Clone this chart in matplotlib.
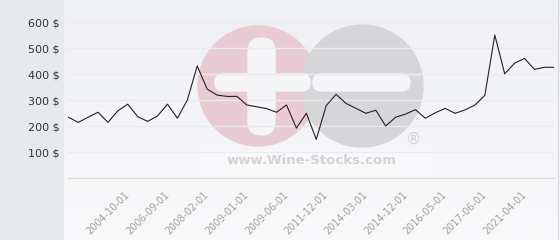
import matplotlib.pyplot as plt
import numpy as np
from matplotlib.patches import Circle, FancyBboxPatch, Rectangle

# prix (un point par vente)
prices = [235, 215, 235, 254, 215, 260, 285, 237, 219, 240,
          285, 231, 301, 432, 343, 320, 315, 315, 282, 275,
          268, 254, 282, 193, 250, 150, 279, 323, 288, 269,
          250, 262, 201, 235, 247, 264, 231, 252, 269, 250,
          263, 282, 319, 551, 402, 443, 461, 419, 427, 427]
tick_labels = ['2004-10-01', '2006-09-01', '2008-02-01', '2009-01-01',
               '2009-06-01', '2011-12-01', '2014-03-01', '2014-12-01',
               '2016-05-01', '2017-06-01', '2021-04-01']
y_ticks = [100, 200, 300, 400, 500, 600]

W, H = 560, 240
fig = plt.figure(figsize=(W / 100, H / 100), dpi=100)

# fond : panneau gris a gauche, degrade clair a droite, filigrane
bg = fig.add_axes([0, 0, 1, 1])
bg.set_zorder(0)
grad = np.linspace(0, 1, 100).reshape(-1, 1)
bg.imshow(grad, cmap=plt.matplotlib.colors.LinearSegmentedColormap.from_list(
    'g', ['#eef0f4', '#f9f9fb']), extent=(63, W, H, 0), aspect='auto', zorder=0)
bg.set_xlim(0, W)
bg.set_ylim(H, 0)
bg.axis('off')
bg.add_patch(Rectangle((0, 0), 63, H, color='#e6eaed', zorder=1))
bg.plot([558, 558], [0, H], color='#d5d8dc', lw=0.8, zorder=1)

bg.add_patch(Rectangle((200, 150), 230, 24, color='#f8f8fa', zorder=1))
bg.add_patch(Circle((258, 86), 60, color='#e8cbd3', zorder=2))
bg.add_patch(Circle((362, 86), 61, color='#d6d6d8', zorder=2))
for x0, y0, w, h in [(215, 74, 95, 17), (248, 38, 27, 97), (313, 74, 97, 17)]:
    r = min(w, h) / 2
    bg.add_patch(FancyBboxPatch((x0 + r, y0 + r), w - 2 * r, h - 2 * r,
                                boxstyle='round,pad=%g' % r,
                                color='#f5f5f8', zorder=3))
bg.text(312, 161, 'www.Wine-Stocks.com', fontsize=9.5, fontweight='bold',
        color='#d3d3d3', ha='center', va='center', zorder=3)
bg.text(413, 139, '®', fontsize=11, color='#d0d0d0', ha='center', va='center', zorder=3)

# courbe
ax = fig.add_axes([68.3 / W, (H - 178.3) / H, 486 / W, 156 / H])
ax.set_zorder(2)
ax.set_facecolor('none')
x = np.arange(len(prices))
ax.plot(x, prices, color='#2e1a25', lw=0.8, zorder=3)
ax.set_xlim(0, len(prices) - 1)
ax.set_ylim(0, 600)

ax.set_yticks(y_ticks)
ax.set_yticklabels(['%d $' % v for v in y_ticks])
ax.set_xticks(np.arange(6, 6 + 4 * len(tick_labels), 4))
ax.set_xticklabels(tick_labels, rotation=45, ha='right', va='center',
                   rotation_mode='anchor')
ax.tick_params(axis='y', length=0, pad=6.5, labelsize=8, labelcolor='#333333')
ax.tick_params(axis='x', length=0, pad=11, labelsize=7, labelcolor='#a0a0a0')
ax.grid(axis='y', color='#ebebed', lw=1.0)
for s in ['top', 'left', 'right']:
    ax.spines[s].set_visible(False)
ax.spines['bottom'].set_color('#dcdcdc')
ax.spines['bottom'].set_linewidth(0.8)

fig.savefig('out.png', dpi=100)
